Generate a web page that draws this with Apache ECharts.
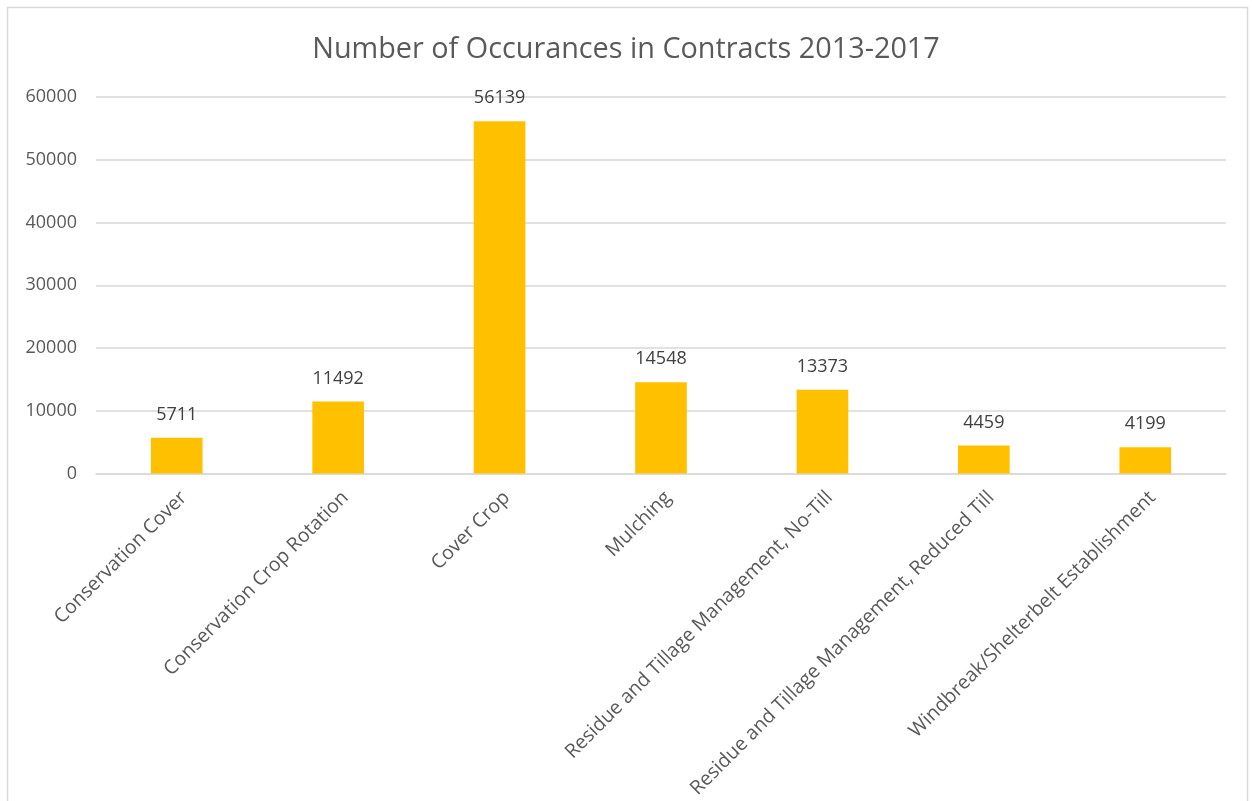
<!DOCTYPE html>
<html>
<head>
<meta charset="utf-8">
<script src="https://cdn.jsdelivr.net/npm/echarts@6/dist/echarts.min.js"></script>
<style>
  html, body { margin: 0; padding: 0; background: #fff; }
  #chart { width: 1252px; height: 801px; }
</style>
</head>
<body>
<div id="chart"></div>
<script>
// Practice names and their contract counts
const categories = [
  'Conservation Cover',
  'Conservation Crop Rotation',
  'Cover Crop',
  'Mulching',
  'Residue and Tillage Management, No-Till',
  'Residue and Tillage Management, Reduced Till',
  'Windbreak/Shelterbelt Establishment'
];
const occurrences = [5711, 11492, 56139, 14548, 13373, 4459, 4199];
const yTicks = [0, 10000, 20000, 30000, 40000, 50000, 60000];

const textFont = '"Open Sans", "Noto Sans", sans-serif';
const chart = echarts.init(document.getElementById('chart'));

chart.setOption({
  backgroundColor: '#ffffff',
  animation: false,
  title: {
    text: 'Number of Occurances in Contracts 2013-2017',
    left: 'center',
    top: 30,
    textStyle: { fontFamily: textFont, fontSize: 28.8, fontWeight: 'normal', color: '#595959' }
  },
  graphic: [{
    type: 'rect',
    shape: { x: 7.5, y: 7.5, width: 1240, height: 810 },
    style: { fill: 'none', stroke: '#d9d9d9', lineWidth: 1.5 },
    silent: true
  }],
  grid: { left: 96, right: 26, top: 97, bottom: 327 },
  xAxis: {
    type: 'category',
    data: categories,
    axisLine: { lineStyle: { color: '#d9d9d9', width: 1.5 } },
    axisTick: { show: false },
    axisLabel: {
      interval: 0,
      rotate: 45,
      margin: 14,
      verticalAlign: 'top',
      fontFamily: textFont,
      fontSize: 19.5,
      color: '#595959'
    }
  },
  yAxis: {
    type: 'value',
    min: yTicks[0],
    max: yTicks[yTicks.length - 1],
    interval: yTicks[1] - yTicks[0],
    axisLine: { show: false },
    axisTick: { show: false },
    splitLine: { lineStyle: { color: '#d9d9d9', width: 1.5 } },
    axisLabel: {
      margin: 19,
      fontFamily: textFont,
      fontSize: 18,
      color: '#595959',
      formatter: (v) => String(v)
    }
  },
  series: [{
    type: 'bar',
    data: occurrences,
    barWidth: '32%',
    itemStyle: { color: '#ffc000' },
    label: {
      show: true,
      position: 'top',
      distance: 14,
      fontFamily: textFont,
      fontSize: 18,
      color: '#404040'
    }
  }]
});
</script>
</body>
</html>
